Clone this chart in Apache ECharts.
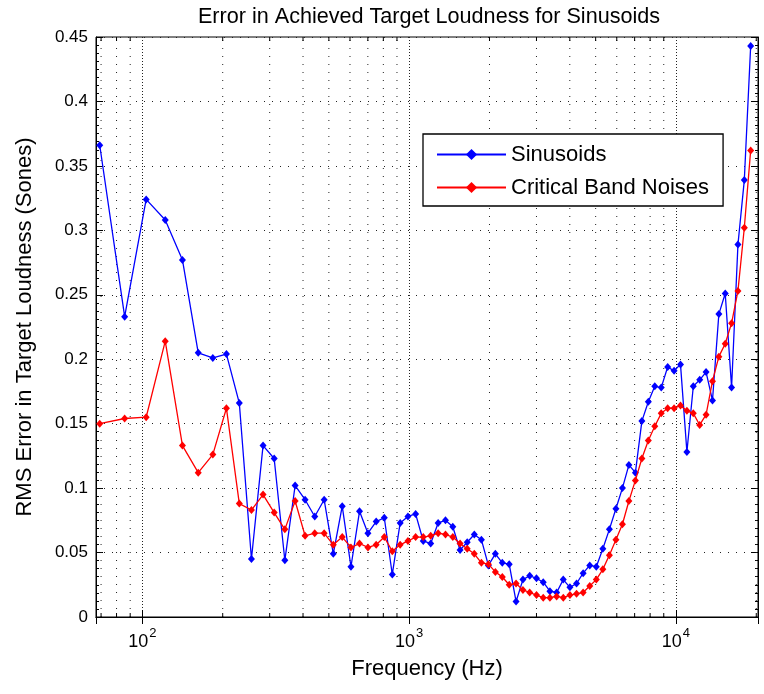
<!DOCTYPE html>
<html>
<head>
<meta charset="utf-8">
<script src="https://cdn.jsdelivr.net/npm/echarts@6/dist/echarts.min.js"></script>
<style>html,body{margin:0;padding:0;background:#fff;}#c{width:764px;height:694px;}</style>
</head>
<body>
<div id="c"></div>
<script>
// Frequencies (Hz) of the measured points
var freqs = [69.2, 85.8, 103.3, 121.8, 141.3, 161.9, 183.6, 206.5, 230.8, 256.3,
  283.3, 311.8, 341.9, 373.7, 407.2, 442.6, 480.0, 519.4, 561.1, 605.0,
  651.4, 700.4, 752.1, 806.7, 864.3, 925.1, 989.3, 1057, 1129, 1204,
  1284, 1368, 1457, 1551, 1650, 1754, 1865, 1981, 2104, 2234,
  2371, 2516, 2669, 2830, 3000, 3180, 3369, 3570, 3781, 4004,
  4240, 4488, 4751, 5028, 5320, 5629, 5955, 6299, 6662, 7046,
  7451, 7878, 8329, 8805, 9308, 9839, 10399, 10990, 11615, 12274,
  12969, 13704, 14479, 15298, 16162, 17074, 18039, 19055];

var sinusoids = [0.366, 0.233, 0.324, 0.308, 0.277, 0.205, 0.201, 0.204, 0.166, 0.045,
  0.133, 0.123, 0.044, 0.102, 0.091, 0.078, 0.091, 0.049, 0.086, 0.039,
  0.082, 0.065, 0.074, 0.077, 0.033, 0.073, 0.078, 0.080, 0.059, 0.057,
  0.073, 0.075, 0.070, 0.052, 0.058, 0.064, 0.060, 0.040, 0.049, 0.042,
  0.041, 0.012, 0.029, 0.032, 0.030, 0.027, 0.020, 0.019, 0.029, 0.023,
  0.026, 0.034, 0.040, 0.039, 0.053, 0.068, 0.084, 0.100, 0.118, 0.112,
  0.152, 0.167, 0.179, 0.178, 0.194, 0.191, 0.196, 0.128, 0.179, 0.184,
  0.190, 0.168, 0.235, 0.251, 0.178, 0.289, 0.339, 0.443];

var noises = [0.150, 0.154, 0.155, 0.214, 0.133, 0.112, 0.126, 0.162, 0.088, 0.083,
  0.095, 0.081, 0.068, 0.090, 0.063, 0.065, 0.065, 0.056, 0.062, 0.054,
  0.057, 0.054, 0.056, 0.062, 0.051, 0.056, 0.059, 0.062, 0.062, 0.063,
  0.065, 0.064, 0.062, 0.057, 0.053, 0.049, 0.042, 0.041, 0.035, 0.031,
  0.025, 0.026, 0.021, 0.019, 0.017, 0.015, 0.015, 0.016, 0.015, 0.017,
  0.018, 0.019, 0.024, 0.029, 0.037, 0.048, 0.060, 0.072, 0.090, 0.106,
  0.123, 0.137, 0.148, 0.158, 0.162, 0.162, 0.164, 0.160, 0.158, 0.149,
  0.157, 0.183, 0.202, 0.212, 0.228, 0.253, 0.302, 0.362];

// Minor (log) gridline / tick positions
var minorFreqs = [70, 80, 90, 200, 300, 400, 500, 600, 700, 800, 900,
  2000, 3000, 4000, 5000, 6000, 7000, 8000, 9000, 20000];

var xMin = 67, xMax = 20300, yMin = 0, yMax = 0.45, yStep = 0.05;

var FONT = 'Liberation Sans';
var chart = echarts.init(document.getElementById('c'), null, {renderer: 'canvas'});

function zip(xs, ys) { return xs.map(function (x, i) { return [x, ys[i]]; }); }

var gridDot = [1, 7];
var option = {
  animation: false,
  backgroundColor: '#fff',
  textStyle: {fontFamily: FONT, color: '#000'},
  title: {
    text: 'Error in Achieved Target Loudness for Sinusoids',
    left: 424, top: 1, textAlign: 'center',
    textStyle: {fontFamily: FONT, fontSize: 21.6, fontWeight: 'normal', color: '#000'}
  },
  grid: {left: 96, right: 6, top: 37, bottom: 77, show: true, borderColor: '#000', borderWidth: 1, backgroundColor: '#fff'},
  legend: {
    orient: 'vertical', left: 423, top: 134,
    backgroundColor: '#fff', borderColor: '#000', borderWidth: 1.3,
    padding: [9, 14, 7, 13], itemGap: 10,
    itemWidth: 69, itemHeight: 14,
    textStyle: {fontFamily: FONT, fontSize: 22, color: '#000', lineHeight: 23},
    data: ['Sinusoids', 'Critical Band Noises']
  },
  xAxis: [{
    type: 'log', logBase: 10, min: xMin, max: xMax, position: 'bottom',
    name: 'Frequency (Hz)', nameLocation: 'middle', nameGap: 41,
    nameTextStyle: {fontFamily: FONT, fontSize: 22, color: '#000'},
    axisLine: {show: true, lineStyle: {color: '#000', width: 1}},
    axisTick: {show: true, inside: true, length: 7, lineStyle: {color: '#000'}},
    axisLabel: {
      showMinLabel: false, showMaxLabel: false, margin: 10,
      formatter: function (v) { return '{a|10}{b|' + Math.round(Math.log10(v)) + '}'; },
      rich: {
        a: {fontFamily: FONT, fontSize: 18, color: '#000', lineHeight: 24, verticalAlign: 'bottom'},
        b: {fontFamily: FONT, fontSize: 13, color: '#000', lineHeight: 24, verticalAlign: 'top', padding: [0, 0, 0, 1]}
      }
    },
    splitLine: {show: true, lineStyle: {color: '#222', type: [1, 2], width: 1}}
  }, {
    type: 'log', logBase: 10, min: xMin, max: xMax, position: 'top',
    axisLine: {show: true, lineStyle: {color: '#000'}},
    axisTick: {show: true, inside: true, length: 7, lineStyle: {color: '#000'}},
    axisLabel: {show: false}, splitLine: {show: false}
  }],
  yAxis: [{
    type: 'value', min: yMin, max: yMax, interval: yStep, position: 'left',
    name: 'RMS Error in Target Loudness (Sones)', nameLocation: 'middle', nameGap: 60,
    nameTextStyle: {fontFamily: FONT, fontSize: 22, color: '#000'},
    axisLine: {show: true, lineStyle: {color: '#000'}},
    axisTick: {show: true, inside: true, length: 7, lineStyle: {color: '#000'}},
    minorTick: {show: true, splitNumber: 8, length: 3, lineStyle: {color: '#000'}},
    axisLabel: {fontFamily: FONT, fontSize: 17, color: '#000', margin: 8},
    splitLine: {show: true, lineStyle: {color: '#222', type: gridDot, width: 1}}
  }, {
    type: 'value', min: yMin, max: yMax, interval: yStep, position: 'right',
    axisLine: {show: true, lineStyle: {color: '#000'}},
    axisTick: {show: true, inside: true, length: 7, lineStyle: {color: '#000'}},
    minorTick: {show: true, splitNumber: 8, length: 3, lineStyle: {color: '#000'}},
    axisLabel: {show: false}, splitLine: {show: false}
  }],
  series: [{
    type: 'custom', name: 'minorgrid', silent: true, z: 1,
    xAxisIndex: 0, yAxisIndex: 0,
    data: minorFreqs.map(function (f) { return [f, yMin]; }),
    encode: {x: 0, y: 1},
    renderItem: function (params, api) {
      var f = api.value(0);
      var p0 = api.coord([f, yMin]);
      var p1 = api.coord([f, yMax]);
      return {
        type: 'group',
        children: [
          {type: 'line', shape: {x1: p0[0], y1: p0[1], x2: p1[0], y2: p1[1]},
           style: {stroke: '#222', lineWidth: 1, lineDash: gridDot}},
          {type: 'line', shape: {x1: p0[0], y1: p0[1], x2: p0[0], y2: p0[1] - 4},
           style: {stroke: '#000', lineWidth: 1}},
          {type: 'line', shape: {x1: p1[0], y1: p1[1], x2: p1[0], y2: p1[1] + 4},
           style: {stroke: '#000', lineWidth: 1}}
        ]
      };
    }
  }, {
    type: 'line', name: 'Sinusoids', xAxisIndex: 0, yAxisIndex: 0, z: 3,
    data: zip(freqs, sinusoids),
    symbol: 'diamond', symbolSize: [7, 8], showSymbol: true,
    lineStyle: {color: '#0000ff', width: 1.3},
    itemStyle: {color: '#0000ff'}
  }, {
    type: 'line', name: 'Critical Band Noises', xAxisIndex: 0, yAxisIndex: 0, z: 4,
    data: zip(freqs, noises),
    symbol: 'diamond', symbolSize: [7, 8], showSymbol: true,
    lineStyle: {color: '#ff0000', width: 1.3},
    itemStyle: {color: '#ff0000'}
  }]
};
chart.setOption(option);
</script>
</body>
</html>
